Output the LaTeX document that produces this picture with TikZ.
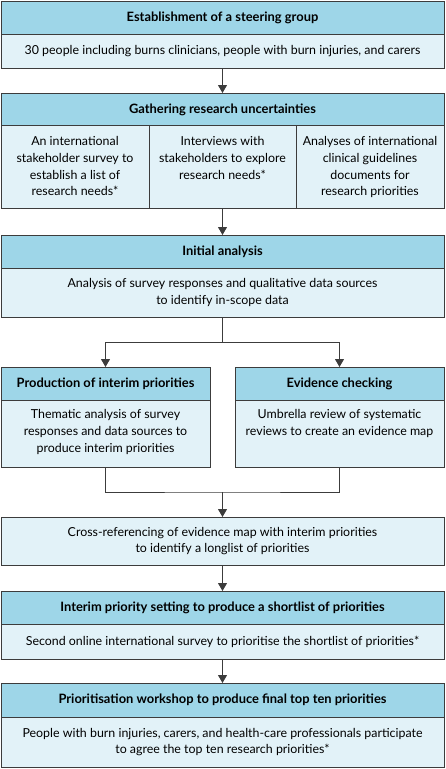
\documentclass[tikz,border=0pt]{standalone}
\usepackage{fontspec}
\setmainfont{Lato}
\usetikzlibrary{arrows.meta,positioning}
\definecolor{headblue}{HTML}{9ED6E8}
\definecolor{bodyblue}{HTML}{E2F2F8}
\definecolor{edgegray}{HTML}{3C3C3C}

\begin{document}
\begin{tikzpicture}[x=1pt,y=-1pt,
	every node/.style={font=\fontsize{12.4}{16.7}\selectfont},
	head/.style={draw=edgegray, fill=headblue, line width=0.9pt, minimum height=33pt, inner sep=0pt, outer sep=0pt, font=\fontsize{12.9}{16.7}\selectfont\bfseries},
	body/.style={draw=edgegray, fill=bodyblue, line width=0.9pt, inner sep=0pt, outer sep=0pt, align=center},
	txt/.style={align=center, inner sep=0pt},
	arr/.style={line width=1pt, draw=edgegray, -{Triangle[width=9pt,length=8pt]}},
	link/.style={line width=1pt, draw=edgegray}]
	\useasboundingbox (0,0) rectangle (445,769);
	% steering group
	\node[head, minimum width=443pt, anchor=north] (steer) at (222.5,1) {Establishment of a steering group};
	\node[body, minimum width=443pt, minimum height=34pt, below=0pt of steer] (steerb) {30 people including burns clinicians, people with burn injuries, and carers};
	% research uncertainties
	\node[head, minimum width=443pt, anchor=north] (gather) at (222.5,93) {Gathering research uncertainties};
	\node[body, minimum width=148pt, minimum height=83pt, anchor=north west] (survey) at (1,125) {};
	\node[body, minimum width=147pt, minimum height=83pt, right=0pt of survey] (interv) {};
	\node[body, minimum width=148pt, minimum height=83pt, right=0pt of interv] (guide) {};
	\node[txt, below=11.5pt of survey.north] {An international\\stakeholder survey to\\establish a list of\\research needs*};
	\node[txt, below=11.5pt of interv.north] {Interviews with\\stakeholders to explore\\research needs*};
	\node[txt, below=11.5pt of guide.north] {Analyses of international\\clinical guidelines\\documents for\\research priorities};
	% initial analysis
	\node[head, minimum width=443pt, anchor=north] (initial) at (222.5,235) {Initial analysis};
	\node[body, minimum width=443pt, minimum height=49pt, below=0pt of initial] (initialb) {Analysis of survey responses and qualitative data sources\\to identify in-scope data};
	% interim priorities and evidence
	\node[head, minimum width=209pt, anchor=north west] (interim) at (1,367) {Production of interim priorities};
	\node[body, minimum width=209pt, minimum height=67pt, below=0pt of interim] (interimb) {};
	\node[head, minimum width=209pt, anchor=north west] (evid) at (235,367) {Evidence checking};
	\node[body, minimum width=209pt, minimum height=67pt, below=0pt of evid] (evidb) {};
	\node[txt, below=9.5pt of interimb.north] {Thematic analysis of survey\\responses and data sources to\\produce interim priorities};
	\node[txt, below=9.5pt of evidb.north] {Umbrella review of systematic\\reviews to create an evidence map};
	% longlist
	\node[body, minimum width=443pt, minimum height=48pt, anchor=north] (cross) at (222.5,517) {Cross-referencing of evidence map with interim priorities\\to identify a longlist of priorities};
	% shortlist
	\node[head, minimum width=443pt, anchor=north] (short) at (222.5,591) {Interim priority setting to produce a shortlist of priorities};
	\node[body, minimum width=443pt, minimum height=35pt, below=0pt of short] (shortb) {Second online international survey to prioritise the shortlist of priorities*};
	% workshop
	\node[head, minimum width=443pt, minimum height=34pt, anchor=north] (workshop) at (222.5,683) {Prioritisation workshop to produce final top ten priorities};
	\node[body, minimum width=443pt, minimum height=50pt, below=0pt of workshop] (workshopb) {People with burn injuries, carers, and health-care professionals participate\\to agree the top ten research priorities*};
	% connectors
	\coordinate (split) at (222.5,342);
	\coordinate (merge) at (222.5,492);
	\draw[arr] (steerb) -- (gather);
	\draw[arr] (interv) -- (initial);
	\draw[link] (initialb) -- (split);
	\draw[arr] (split) -| (interim);
	\draw[arr] (split) -| (evid);
	\draw[link] (interimb) |- (merge) -| (evidb);
	\draw[arr] (merge) -- (cross);
	\draw[arr] (cross) -- (short);
	\draw[arr] (shortb) -- (workshop);
\end{tikzpicture}
\end{document}
